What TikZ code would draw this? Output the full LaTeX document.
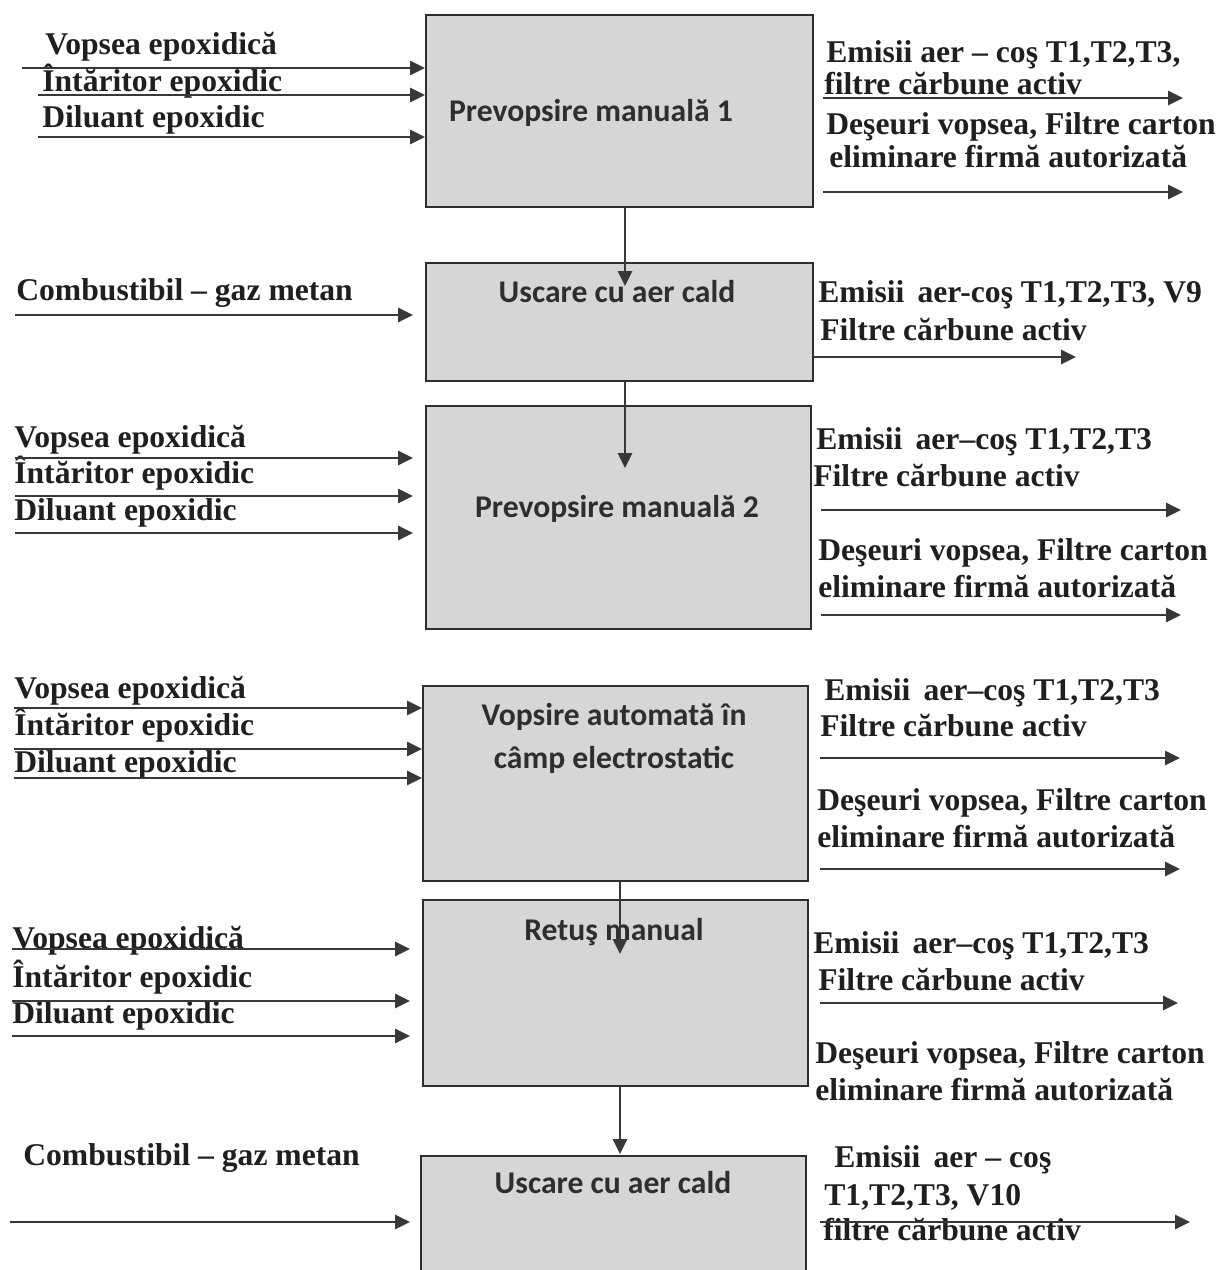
\documentclass[tikz,border=0pt]{standalone}
\usepackage{fontspec}
\setmainfont{Liberation Serif}
\newfontfamily\boxfont{Carlito}
\usetikzlibrary{arrows.meta}
\begin{document}
\begin{tikzpicture}[x=0.02cm,y=-0.02cm,
  box/.style={draw=black!82, fill=black!16, line width=0.045cm, inner sep=0pt, anchor=north west},
  blab/.style={font=\boxfont\bfseries\fontsize{18pt}{20pt}\selectfont, text=black!82, anchor=base, inner sep=0pt},
  lab/.style={font=\bfseries\fontsize{18pt}{20pt}\selectfont, text=black!88, anchor=base west, inner sep=0pt},
  arr/.style={draw=black!78, line width=0.055cm, -{Triangle[length=0.30cm,width=0.28cm]}}]
\useasboundingbox (0,0) rectangle (1219,1270);
\clip (0,0) rectangle (1219,1270);

% ---------- boxes ----------
\node[box, minimum width=7.74cm, minimum height=3.84cm] (b1) at (425,14) {};
\node[box, minimum width=7.74cm, minimum height=2.36cm] (b2) at (425,262) {};
\node[box, minimum width=7.70cm, minimum height=4.46cm] (b3) at (425,405) {};
\node[box, minimum width=7.70cm, minimum height=3.90cm] (b4) at (422,685) {};
\node[box, minimum width=7.70cm, minimum height=3.72cm] (b5) at (422,899) {};
\node[box, minimum width=7.70cm, minimum height=3.00cm] (b6) at (420,1155) {};

% ---------- box labels ----------
\node[blab] (t1) at (591,122) {Prevopsire manuală 1};
\node[blab] (t2) at (617,302) {Uscare cu aer cald};
\node[blab] (t3) at (617,517) {Prevopsire manuală 2};
\node[blab] (t4a) at (614,725) {Vopsire automată în};
\node[blab] (t4b) at (614,768) {câmp electrostatic};
\node[blab] (t5) at (614,940) {Retuş manual};
\node[blab] (t6) at (613,1193) {Uscare cu aer cald};

% ---------- vertical connectors ----------
\coordinate (v1) at (625,286);
\coordinate (v2) at (625,468);
\coordinate (v4) at (620,954);
\coordinate (v5) at (620,1154);
\draw[arr] (v1 |- b1.south) -- (v1);
\draw[arr] (v2 |- b2.south) -- (v2);
\draw[arr] (v4 |- b4.south) -- (v4);
\draw[arr] (v5 |- b5.south) -- (v5);

% ---------- stage 1 ----------
\node[lab] (l1a) at (45,55) {Vopsea epoxidică};
\node[lab] (l1b) at (42,92) {Întăritor epoxidic};
\node[lab] (l1c) at (42,128) {Diluant epoxidic};
\coordinate (i1a) at (22,68);
\coordinate (i1b) at (38,95);
\coordinate (i1c) at (38,137);
\draw[arr] (i1a) -- (i1a -| b1.west);
\draw[arr] (i1b) -- (i1b -| b1.west);
\draw[arr] (i1c) -- (i1c -| b1.west);
\node[lab] (r1a) at (826,63) {Emisii aer – coş T1,T2,T3,};
\node[lab] (r1b) at (824,95) {filtre cărbune activ};
\node[lab] (r1c) at (826,135) {Deşeuri vopsea, Filtre carton};
\node[lab] (r1d) at (829,168) {eliminare firmă autorizată};
\coordinate (o1a) at (823,98);  \coordinate (e1a) at (1183,98);
\coordinate (o1b) at (823,192); \coordinate (e1b) at (1183,192);
\draw[arr] (o1a) -- (e1a);
\draw[arr] (o1b) -- (e1b);

% ---------- stage 2 ----------
\node[lab] (l2a) at (16,300) {Combustibil – gaz metan};
\coordinate (i2a) at (15,315); \coordinate (j2a) at (413,315);
\draw[arr] (i2a) -- (j2a);
\node[lab] (r2a) at (818,302) {Emisii\, aer-coş T1,T2,T3, V9};
\node[lab] (r2b) at (820,340) {Filtre cărbune activ};
\coordinate (e2a) at (1076,357);
\draw[arr] (e2a -| b2.east) -- (e2a);

% ---------- stage 3 ----------
\node[lab] (l3a) at (14,447) {Vopsea epoxidică};
\node[lab] (l3b) at (14,483) {Întăritor epoxidic};
\node[lab] (l3c) at (14,520) {Diluant epoxidic};
\coordinate (i3a) at (15,458); \coordinate (j3a) at (413,458);
\coordinate (i3b) at (15,496); \coordinate (j3b) at (413,496);
\coordinate (i3c) at (15,533); \coordinate (j3c) at (413,533);
\draw[arr] (i3a) -- (j3a);
\draw[arr] (i3b) -- (j3b);
\draw[arr] (i3c) -- (j3c);
\node[lab] (r3a) at (816,449) {Emisii\, aer–coş T1,T2,T3};
\node[lab] (r3b) at (813,486) {Filtre cărbune activ};
\node[lab] (r3c) at (818,560) {Deşeuri vopsea, Filtre carton};
\node[lab] (r3d) at (818,597) {eliminare firmă autorizată};
\coordinate (o3a) at (821,510); \coordinate (e3a) at (1181,510);
\coordinate (o3b) at (821,615); \coordinate (e3b) at (1181,615);
\draw[arr] (o3a) -- (e3a);
\draw[arr] (o3b) -- (e3b);

% ---------- stage 4 ----------
\node[lab] (l4a) at (14,698) {Vopsea epoxidică};
\node[lab] (l4b) at (14,735) {Întăritor epoxidic};
\node[lab] (l4c) at (14,772) {Diluant epoxidic};
\coordinate (i4a) at (14,708);
\coordinate (i4b) at (14,749);
\coordinate (i4c) at (14,778);
\draw[arr] (i4a) -- (i4a -| b4.west);
\draw[arr] (i4b) -- (i4b -| b4.west);
\draw[arr] (i4c) -- (i4c -| b4.west);
\node[lab] (r4a) at (824,700) {Emisii\, aer–coş T1,T2,T3};
\node[lab] (r4b) at (820,736) {Filtre cărbune activ};
\node[lab] (r4c) at (817,810) {Deşeuri vopsea, Filtre carton};
\node[lab] (r4d) at (817,847) {eliminare firmă autorizată};
\coordinate (o4a) at (820,758); \coordinate (e4a) at (1180,758);
\coordinate (o4b) at (820,869); \coordinate (e4b) at (1180,869);
\draw[arr] (o4a) -- (e4a);
\draw[arr] (o4b) -- (e4b);

% ---------- stage 5 ----------
\node[lab] (l5a) at (12,948) {Vopsea epoxidică};
\node[lab] (l5b) at (12,987) {Întăritor epoxidic};
\node[lab] (l5c) at (12,1023) {Diluant epoxidic};
\coordinate (i5a) at (12,949);  \coordinate (j5a) at (410,949);
\coordinate (i5b) at (12,1001); \coordinate (j5b) at (410,1001);
\coordinate (i5c) at (12,1036); \coordinate (j5c) at (410,1036);
\draw[arr] (i5a) -- (j5a);
\draw[arr] (i5b) -- (j5b);
\draw[arr] (i5c) -- (j5c);
\node[lab] (r5a) at (813,953) {Emisii\, aer–coş T1,T2,T3};
\node[lab] (r5b) at (818,990) {Filtre cărbune activ};
\node[lab] (r5c) at (815,1063) {Deşeuri vopsea, Filtre carton};
\node[lab] (r5d) at (815,1100) {eliminare firmă autorizată};
\coordinate (o5a) at (820,1003); \coordinate (e5a) at (1178,1003);
\draw[arr] (o5a) -- (e5a);

% ---------- stage 6 ----------
\node[lab] (l6a) at (23,1165) {Combustibil – gaz metan};
\coordinate (i6a) at (10,1222); \coordinate (j6a) at (410,1222);
\draw[arr] (i6a) -- (j6a);
\node[lab] (r6a) at (834,1167) {Emisii\, aer – coş};
\node[lab] (r6b) at (824,1205) {T1,T2,T3, V10};
\node[lab] (r6c) at (823,1240) {filtre cărbune activ};
\coordinate (o6a) at (820,1222); \coordinate (e6a) at (1190,1222);
\draw[arr] (o6a) -- (e6a);
\end{tikzpicture}
\end{document}
